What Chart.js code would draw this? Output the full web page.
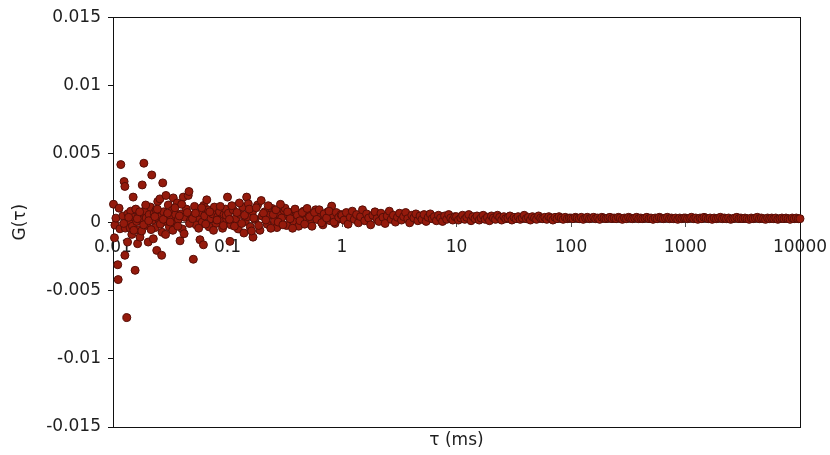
<!DOCTYPE html>
<html>
<head>
<meta charset="utf-8">
<script src="https://cdn.jsdelivr.net/npm/chart.js@4/dist/chart.umd.min.js"></script>
<style>
  body { margin: 0; background: #fff; }
  #wrap { width: 830px; height: 455px; }
</style>
</head>
<body>
<div id="wrap"><canvas id="corrChart"></canvas></div>
<script>
// Lag times (ms), grouped by decade
const tau = [
  0.0101, 0.0103, 0.0104, 0.0106, 0.0110, 0.0111, 0.0113, 0.0115, 0.0117, 0.0122, 0.0125, 0.0127, 0.0127, 0.0128, 0.0132, 0.0134, 0.0135, 0.0139, 0.0141, 0.0143, 0.0146, 0.0148, 0.0150, 0.0153, 0.0156, 0.0158, 0.0161, 0.0164, 0.0166, 0.0168, 0.0172, 0.0175, 0.0178, 0.0180, 0.0183, 0.0186, 0.0190, 0.0195, 0.0199, 0.0203, 0.0207, 0.0212, 0.0218, 0.0221, 0.0225, 0.0229, 0.0234, 0.0238, 0.0241, 0.0246, 0.0251, 0.0257, 0.0262, 0.0266, 0.0269, 0.0272, 0.0277, 0.0284, 0.0290, 0.0296, 0.0304, 0.0311, 0.0322, 0.0329, 0.0336, 0.0345, 0.0352, 0.0364, 0.0372, 0.0385, 0.0393, 0.0402, 0.0411, 0.0423, 0.0437, 0.0454, 0.0461, 0.0472, 0.0488, 0.0503, 0.0515, 0.0532, 0.0551, 0.0575, 0.0588, 0.0602, 0.0616, 0.0620, 0.0632, 0.0659, 0.0675, 0.0691, 0.0718, 0.0742, 0.0768, 0.0794, 0.0822, 0.0851, 0.0877, 0.0905, 0.0932, 0.0962, 0.0985,
  0.0124, 0.0137, 0.0152, 0.0163, 0.0171, 0.0185, 0.0193, 0.0205, 0.0215, 0.0232, 0.0244, 0.0259, 0.0275, 0.0288, 0.0300, 0.0316, 0.0333, 0.0348, 0.0368, 0.0380, 0.0398, 0.0418, 0.0445, 0.0466, 0.0495, 0.0525, 0.0560, 0.0595, 0.0645, 0.0700, 0.0755, 0.0810, 0.0865, 0.0920, 0.0975,
  0.100, 0.102, 0.105, 0.107, 0.112, 0.118, 0.124, 0.130, 0.136, 0.139, 0.143, 0.147, 0.150, 0.152, 0.158, 0.166, 0.167, 0.174, 0.183, 0.192, 0.197, 0.201, 0.211, 0.222, 0.233, 0.245, 0.257, 0.260, 0.270, 0.283, 0.297, 0.312, 0.318, 0.328, 0.344, 0.361, 0.379, 0.398, 0.418, 0.439, 0.461, 0.484, 0.508, 0.534, 0.561, 0.589, 0.618, 0.649, 0.681, 0.715, 0.751, 0.789, 0.812, 0.828, 0.870, 0.913, 0.959,
  0.104, 0.109, 0.115, 0.121, 0.127, 0.133, 0.141, 0.155, 0.162, 0.170, 0.178, 0.187, 0.206, 0.216, 0.227, 0.239, 0.251, 0.265, 0.277, 0.290, 0.305, 0.335, 0.352, 0.370, 0.389, 0.408, 0.429, 0.450, 0.472, 0.496, 0.521, 0.547, 0.575, 0.603, 0.633, 0.665, 0.698, 0.733, 0.770, 0.850, 0.891, 0.936, 0.982,
  1.00, 1.04, 1.09, 1.13, 1.18, 1.23, 1.28, 1.34, 1.39, 1.45, 1.51, 1.58, 1.64, 1.71, 1.78, 1.86, 1.94, 2.02, 2.10, 2.19, 2.28, 2.38, 2.48, 2.59, 2.69, 2.81, 2.93, 3.05, 3.18, 3.31, 3.45, 3.60, 3.75, 3.90, 4.07, 4.24, 4.42, 4.60, 4.80, 5.00, 5.21, 5.43, 5.66, 5.90, 6.14, 6.40, 6.67, 6.95, 7.25, 7.55, 7.87, 8.20, 8.55, 8.90, 9.28, 9.67,
  10.0, 10.4, 10.9, 11.3, 11.8, 12.3, 12.8, 13.4, 13.9, 14.5, 15.1, 15.8, 16.4, 17.1, 17.8, 18.6, 19.4, 20.2, 21.0, 21.9, 22.8, 23.8, 24.8, 25.9, 26.9, 28.1, 29.3, 30.5, 31.8, 33.1, 34.5, 36.0, 37.5, 39.0, 40.7, 42.4, 44.2, 46.0, 48.0, 50.0, 52.1, 54.3, 56.6, 59.0, 61.4, 64.0, 66.7, 69.5, 72.5, 75.5, 78.7, 82.0, 85.5, 89.0, 92.8, 96.7,
  100, 104, 109, 113, 118, 123, 128, 134, 139, 145, 151, 158, 164, 171, 178, 186, 194, 202, 210, 219, 228, 238, 248, 259, 269, 281, 293, 305, 318, 331, 345, 360, 375, 390, 407, 424, 442, 460, 480, 500, 521, 543, 566, 590, 614, 640, 667, 695, 725, 755, 787, 820, 855, 890, 928, 967,
  1000, 1040, 1090, 1130, 1180, 1230, 1280, 1340, 1390, 1450, 1510, 1580, 1640, 1710, 1780, 1860, 1940, 2020, 2100, 2190, 2280, 2380, 2480, 2590, 2690, 2810, 2930, 3050, 3180, 3310, 3450, 3600, 3750, 3900, 4070, 4240, 4420, 4600, 4800, 5000, 5210, 5430, 5660, 5900, 6140, 6400, 6670, 6950, 7250, 7550, 7870, 8200, 8550, 8900, 9280, 9670, 10000
];

// G(tau) in units of 1e-4, same order as tau
const g1e4 = [
  13.1, -11.5, -2.2, 2.9, -31.2, -42.1, 10.2, -4.9, 42.1, 4.5, 29.7, 26.1, -24.3, -4.4, -69.9, -14.6, 6.2, 1.0, -4.2, 8.0, -9.0, -3.0, 18.3, 3.5, -35.3, 9.5, 0.5, -15.8, -5.6, 5.0, -11.0, 2.0, -6.5, 27.2, 7.0, 43.1, 8.5, 3.0, -2.5, -14.6, 5.5, 11.0, 34.5, 1.5, -12.2, 6.5, -4.0, 9.0, -20.7, 15.1, 2.5, 17.0, 4.0, -24.3, -7.5, 28.7, 7.5, 0.5, 19.5, 5.0, 12.5, -3.5, 3.0, 8.5, 17.7, -1.0, 5.5, 14.0, 2.0, -13.7, 6.0, -5.0, 18.3, 3.5, 9.5, 19.5, 22.4, 1.0, 5.0, -27.2, 11.5, -2.0, 3.5, -12.9, 7.0, 0.0, -16.6, 12.2, 4.5, 16.3, 9.0, -3.5, 2.5, 6.0, 11.0, -1.0, 4.0, 7.5, 1.5, -4.5, 5.5, 9.5, 2.0,
  -1.0, 3.5, -6.0, 2.5, 7.5, -2.0, 12.5, 1.0, -5.5, 4.0, 9.5, -1.5, 2.0, -9.0, 6.5, 0.0, -6.0, 10.5, -3.0, 4.5, 13.0, -8.5, 7.0, -1.0, 2.5, 6.5, -4.5, 10.5, -1.5, 7.5, -6.0, 1.5, 11.5, -2.5, 5.0,
  18.3, 6.5, -14.1, -2.0, 9.0, 2.5, -5.0, 5.5, 11.0, -8.0, 0.5, 18.3, 4.0, 13.4, -3.5, 8.0, -11.0, 2.0, 12.5, -6.0, 15.8, 4.5, 7.5, -1.5, 5.0, 10.0, 1.0, 8.5, -4.0, 6.0, 3.0, 8.5, 10.2, -2.5, 4.0, 7.0, 0.5, 5.5, -3.0, 3.5, 8.0, 1.5, 6.0, -1.5, 4.5, 9.0, 2.0, 5.0, -2.0, 3.5, 7.5, 1.0, 11.7, 4.5, -1.0, 6.0, 2.5,
  2.0, 12.0, -3.0, 7.0, 14.0, -1.0, 5.0, 9.5, -6.5, 3.0, 10.5, -2.5, 6.5, 1.5, 12.0, -4.5, 5.5, 9.0, 0.0, 13.0, -2.0, 7.5, 2.5, -4.5, 9.5, 5.0, 1.0, 7.0, -1.5, 10.0, 4.0, -3.0, 7.0, 2.0, 9.0, -0.5, 6.0, 3.0, 8.0, 0.0, 7.0, 3.5, 5.5,
  5.0, 1.5, 7.0, -1.5, 3.5, 8.0, 2.0, 5.5, -0.5, 4.0, 9.0, 1.0, 6.0, 3.0, -2.0, 5.0, 7.5, 2.5, 0.5, 6.5, 3.5, -1.0, 4.5, 8.0, 2.0, 5.0, 0.0, 3.5, 6.5, 1.5, 4.0, 7.0, 2.5, -0.5, 5.0, 3.0, 6.0, 1.0, 4.5, 2.0, 5.5, 0.5, 3.5, 6.0, 2.5, 4.0, 1.0, 5.0, 3.0, 0.5, 4.5, 2.0, 5.5, 3.0, 1.5, 4.0,
  4.0, 1.5, 3.0, 5.0, 2.0, 3.5, 5.5, 1.0, 4.0, 2.5, 4.5, 1.5, 3.0, 5.0, 2.0, 3.5, 1.0, 4.5, 3.0, 2.0, 5.0, 3.5, 1.5, 4.0, 2.5, 3.0, 4.5, 1.5, 3.5, 2.5, 4.0, 2.0, 3.0, 5.0, 2.5, 3.5, 1.5, 4.0, 3.0, 2.0, 4.5, 3.0, 2.5, 3.5, 2.0, 4.0, 3.0, 1.5, 3.5, 2.5, 4.0, 3.0, 2.0, 3.5, 2.5, 3.0,
  3.0, 2.5, 3.5, 3.0, 2.5, 3.5, 2.0, 3.0, 3.5, 2.5, 3.0, 3.5, 2.5, 3.0, 2.0, 3.5, 3.0, 2.5, 3.0, 3.5, 2.5, 3.0, 2.5, 3.5, 3.0, 2.0, 3.0, 2.5, 3.5, 3.0, 2.5, 3.0, 3.5, 2.5, 3.0, 2.5, 3.0, 3.5, 2.5, 3.0, 2.0, 3.0, 2.5, 3.5, 3.0, 2.5, 3.0, 3.5, 2.5, 3.0, 2.5, 3.0, 2.0, 3.0, 2.5, 3.0,
  3.0, 2.5, 3.0, 3.5, 2.5, 3.0, 2.0, 3.0, 2.5, 3.5, 3.0, 2.5, 3.0, 2.0, 3.0, 2.5, 3.0, 3.5, 2.5, 3.0, 2.5, 3.0, 2.0, 2.5, 3.0, 3.5, 2.5, 3.0, 2.5, 3.0, 2.5, 2.0, 3.0, 2.5, 3.0, 3.5, 2.5, 3.0, 2.5, 2.0, 3.0, 2.5, 3.0, 2.5, 3.0, 2.0, 2.5, 3.0, 2.5, 3.0, 2.5, 2.0, 3.0, 2.5, 3.0, 2.5, 2.5
];

const xTickValues = [0.01, 0.1, 1, 10, 100, 1000, 10000];
const xTickLabels = ['0.01', '0.1', '1', '10', '100', '1000', '10000'];
const yTickValues = [-0.015, -0.01, -0.005, 0, 0.005, 0.01, 0.015];
const yTickLabels = ['-0.015', '-0.01', '-0.005', '0', '0.005', '0.01', '0.015'];

const points = tau.map((t, i) => ({ x: t, y: g1e4[i] * 1e-4 }));

Chart.defaults.font.family = '"DejaVu Sans", Verdana, sans-serif';
Chart.defaults.color = '#1e1e1e';

// plot frame drawn under the markers
const framePlugin = {
  id: 'frame',
  beforeDatasetsDraw(chart) {
    const { ctx, chartArea: a } = chart;
    ctx.save();
    ctx.strokeStyle = '#111';
    ctx.lineWidth = 1;
    ctx.strokeRect(Math.round(a.left) + 0.5, Math.round(a.top) + 0.5,
      Math.round(a.right - a.left), Math.round(a.bottom - a.top));
    ctx.restore();
  }
};

new Chart(document.getElementById('corrChart'), {
  type: 'scatter',
  data: {
    datasets: [{
      data: points,
      pointRadius: 4,
      pointBackgroundColor: '#941a0c',
      pointBorderColor: '#560e07',
      pointBorderWidth: 1,
      pointHoverRadius: 4,
      clip: false
    }]
  },
  options: {
    responsive: true,
    maintainAspectRatio: false,
    animation: false,
    layout: { padding: { top: 15, right: 30, bottom: 0, left: 0 } },
    plugins: { legend: { display: false }, tooltip: { enabled: false } },
    scales: {
      x: {
        type: 'logarithmic',
        position: { y: 0 },
        min: 0.01,
        max: 10000,
        afterBuildTicks: s => { s.ticks = xTickValues.map(v => ({ value: v })); },
        // end labels may overhang the frame without shrinking the plot
        afterFit: s => { s.paddingLeft = 0; s.paddingRight = 0; },
        ticks: {
          autoSkip: false,
          maxRotation: 0,
          padding: 11,
          font: { size: 17 },
          callback: v => xTickLabels[xTickValues.indexOf(v)]
        },
        grid: { drawOnChartArea: false, drawTicks: true, tickLength: 4, color: '#555' },
        border: { color: '#555' }
      },
      xTitle: {
        type: 'linear',
        position: 'bottom',
        min: 0,
        max: 1,
        afterFit: s => { s.height = 28; },
        ticks: { display: false },
        grid: { display: false },
        border: { display: false },
        title: { display: true, text: 'τ (ms)', font: { size: 17 }, padding: { top: 0, bottom: 4 } }
      },
      y: {
        min: -0.015,
        max: 0.015,
        afterFit: s => { s.width = 113; },
        afterBuildTicks: s => { s.ticks = yTickValues.map(v => ({ value: v })); },
        ticks: {
          padding: 7,
          font: { size: 17 },
          callback: v => yTickLabels[yTickValues.indexOf(v)]
        },
        grid: { drawOnChartArea: false, drawTicks: true, tickLength: 5, color: '#111' },
        border: { color: '#111' },
        title: { display: true, text: 'G(τ)', font: { size: 17 }, padding: { top: 10, bottom: 0 } }
      }
    }
  },
  plugins: [framePlugin]
});
</script>
</body>
</html>
